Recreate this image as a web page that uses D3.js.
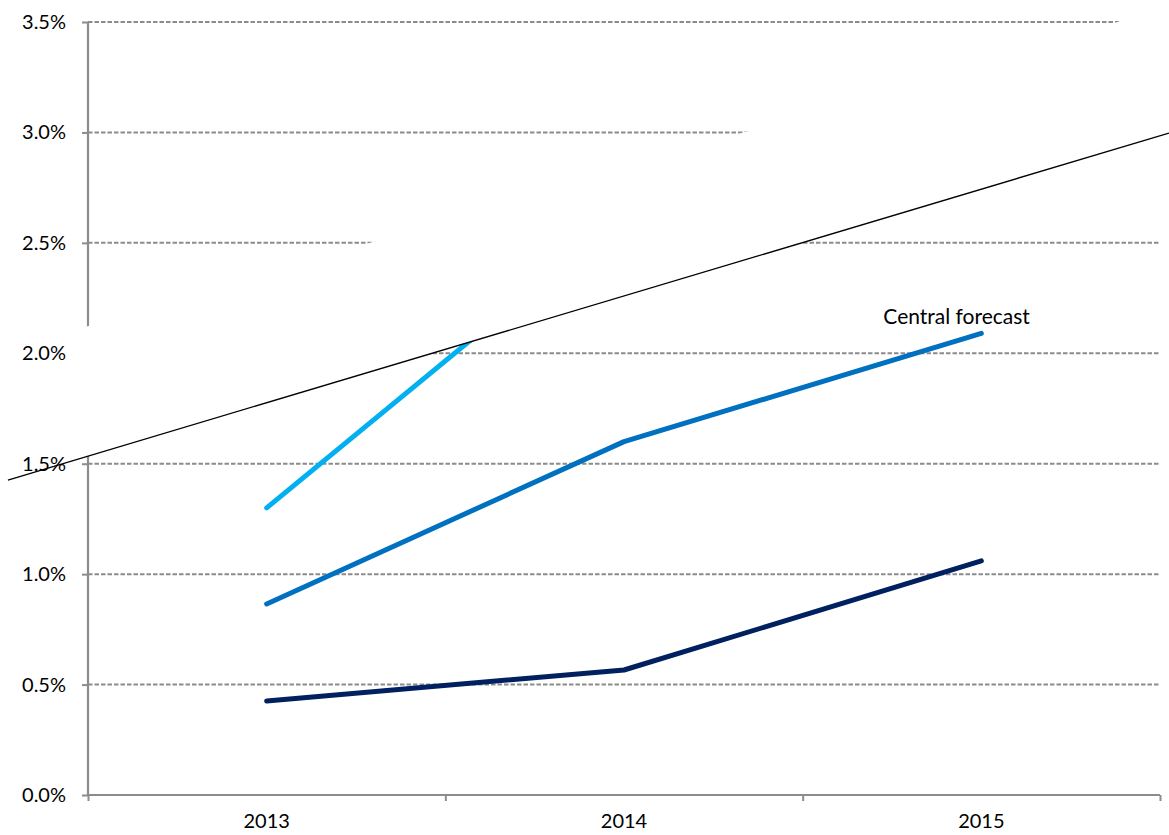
<!DOCTYPE html>
<html>
<head>
<meta charset="utf-8">
<script src="https://cdn.jsdelivr.net/npm/d3@7"></script>
<style>
  body { margin: 0; background: #fff; }
  svg { display: block; font-family: Lato, "Open Sans", sans-serif; }
</style>
</head>
<body>
<svg id="chart" width="1169" height="835"></svg>
<script>
// data
var years = ["2013", "2014", "2015"];
var yTicks = [0, 0.5, 1.0, 1.5, 2.0, 2.5, 3.0, 3.5];

var lowPath = [0.426, 0.566, 1.06];
var centralPath = [0.865, 1.60, 2.09];
var highPath = [1.30, 2.63];

var seriesNames = ["high", "central", "low"];
var seriesColors = ["#00b0f0", "#0070c0", "#002060"];

// axis break band, in (category index, percent) units
var breakLower = [[-0.724, 1.426], [2.525, 2.997]];
var breakUpper = [[-0.724, 2.016], [2.525, 3.569]];

const margin = {top: 22, right: 9, bottom: 40, left: 88};

var svg = d3.select("#chart");
var width = +svg.attr("width");
var height = +svg.attr("height");
var innerWidth = width - margin.left - margin.right;
var innerHeight = height - margin.top - margin.bottom;

var g = svg.append("g")
    .attr("transform", `translate(${margin.left},${margin.top})`);

var xScale = d3.scaleBand().domain(years).range([0, innerWidth]);
// continuous version of the category axis for the break line
var xIdx = d3.scaleLinear().domain([-0.5, years.length - 0.5]).range([0, innerWidth]);
var yScale = d3.scaleLinear().domain([0, 3.5]).range([innerHeight, 0]);

// gridlines
g.append("g")
    .selectAll("line")
    .data(yTicks.filter(d => d > 0))
    .enter()
    .append("line")
    .attr("x1", 0)
    .attr("x2", innerWidth)
    .attr("y1", d => yScale(d))
    .attr("y2", d => yScale(d))
    .style("stroke", "#8c8c8c")
    .style("stroke-width", "2px")
    .style("stroke-dasharray", "4.5,2");

// axes
var yAxis = d3.axisLeft(yScale).tickValues(yTicks).tickSize(6).tickFormat("");
var yAxisG = g.append("g").call(yAxis);

var xAxis = d3.axisBottom(xIdx)
    .tickValues(d3.range(-0.5, years.length, 1))
    .tickSize(6)
    .tickFormat("");
var xAxisG = g.append("g")
    .attr("transform", "translate(0," + innerHeight + ")")
    .call(xAxis);

[yAxisG, xAxisG].forEach(function (a) {
    a.select(".domain").style("stroke", "#8c8c8c").style("stroke-width", "2.2px");
    a.selectAll(".tick line").style("stroke", "#8c8c8c").style("stroke-width", "2px");
});
yAxisG.select(".domain").attr("d", `M0,0V${innerHeight}`);
xAxisG.select(".domain").attr("d", `M0,0H${innerWidth}`);

// series lines
var line = d3.line()
    .x((d, i) => xScale(years[i]) + xScale.bandwidth() / 2)
    .y(d => yScale(d));

var series = [highPath, centralPath, lowPath];
series.forEach(function (vals, k) {
    g.append("path")
        .datum(vals)
        .attr("class", "series-" + seriesNames[k])
        .attr("d", line)
        .style("fill", "none")
        .style("stroke", seriesColors[k])
        .style("stroke-width", "5px")
        .style("stroke-linecap", "round")
        .style("stroke-linejoin", "round");
});

// white break band over the chart
var bandPts = breakLower.concat(breakUpper.slice().reverse());
g.append("path")
    .attr("d", d3.line().x(d => xIdx(d[0])).y(d => yScale(d[1]))(bandPts) + "Z")
    .style("fill", "#fff")
    .style("stroke", "none");

// tick labels
g.append("g")
    .selectAll("text")
    .data(yTicks)
    .enter()
    .append("text")
    .attr("x", -22)
    .attr("y", d => yScale(d))
    .attr("dy", "0.35em")
    .style("text-anchor", "end")
    .style("font-size", "20px")
    .style("fill", "#000")
    .text(d => d3.format(".1f")(d) + "%");

g.append("g")
    .selectAll("text")
    .data(years)
    .enter()
    .append("text")
    .attr("x", d => xScale(d) + xScale.bandwidth() / 2)
    .attr("y", innerHeight + 26)
    .attr("dy", "0.35em")
    .style("text-anchor", "middle")
    .style("font-size", "20px")
    .style("fill", "#000")
    .text(d => d);

// break line edge
g.append("path")
    .attr("d", d3.line().x(d => xIdx(d[0])).y(d => yScale(d[1]))(breakLower))
    .style("fill", "none")
    .style("stroke", "#000")
    .style("stroke-width", "1.3px");

// label for central forecast
g.append("text")
    .attr("x", xScale("2015") + xScale.bandwidth() / 2 - 98)
    .attr("y", yScale(centralPath[2]) - 17)
    .attr("dy", "0.35em")
    .style("text-anchor", "start")
    .style("font-size", "21px")
    .style("fill", "#000")
    .text("Central forecast");
</script>
</body>
</html>
